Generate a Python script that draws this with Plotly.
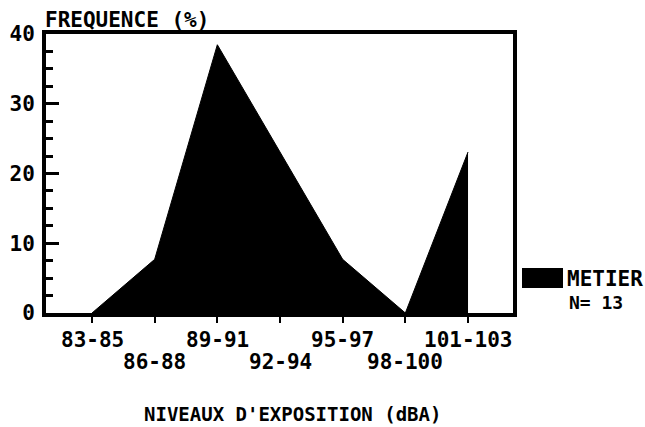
import plotly.graph_objects as go

categories = ["83-85", "86-88", "89-91", "92-94", "95-97", "98-100", "101-103"]
frequence = [0, 7.69, 38.46, 23.08, 7.69, 0, 23.08]
y_ticks = [0, 10, 20, 30, 40]
legend_name = "METIER"
legend_n = "N= 13"

FONT = "DejaVu Sans Mono"
xs = list(range(len(categories)))

fig = go.Figure()
fig.add_trace(go.Scatter(
    x=xs, y=frequence, mode="lines", fill="tozeroy",
    line=dict(color="black", width=1), fillcolor="black",
    showlegend=False, hoverinfo="skip"))

# Plot area in pixels: x 46..513, y 34..313
L, R, T, B = 46, 513, 34, 313
W, H = 645, 427
pw, ph = R - L, B - T

def px_x(p):
    return (p - L) / pw

def px_y(p):
    return (B - p) / ph

fig.update_layout(
    width=W, height=H,
    margin=dict(l=L, r=W - R, t=T, b=H - B, autoexpand=False),
    paper_bgcolor="white", plot_bgcolor="white",
    font=dict(family=FONT, size=21, color="black", weight="bold"),
    showlegend=False,
)
fig.update_xaxes(
    range=[(L - 92) / 62.67, (R - 92) / 62.67],
    tickvals=xs, ticktext=[""] * len(xs), showticklabels=False,
    ticks="outside", ticklen=6, tickwidth=2, tickcolor="black",
    showline=True, linewidth=4, linecolor="black", mirror=True,
    showgrid=False, zeroline=False, fixedrange=True,
)
fig.update_yaxes(
    range=[0, 40], tickvals=y_ticks,
    ticks="inside", ticklen=13, tickwidth=3, tickcolor="black",
    minor=dict(dtick=2.5, ticks="inside", ticklen=7, tickwidth=3, tickcolor="black"),
    showline=True, linewidth=4, linecolor="black", mirror=True,
    showgrid=False, zeroline=False, ticklabelstandoff=3,
    tickfont=dict(family=FONT, size=21, color="black", weight="bold"),
    fixedrange=True,
)

# Two-row category labels
for i, c in enumerate(categories):
    fig.add_annotation(
        x=i, xref="x", y=px_y(340 if i % 2 == 0 else 362), yref="paper",
        text=c, showarrow=False, xanchor="center", yanchor="middle",
        font=dict(family=FONT, size=21, color="black", weight="bold"))

# Axis titles
fig.add_annotation(
    x=px_x(43), y=px_y(20), xref="paper", yref="paper",
    text="FREQUENCE (%)", showarrow=False, xanchor="left", yanchor="middle",
    font=dict(family=FONT, size=21, color="black", weight="bold"))
fig.add_annotation(
    x=px_x(292), y=px_y(414), xref="paper", yref="paper",
    text="NIVEAUX D'EXPOSITION (dBA)", showarrow=False,
    xanchor="center", yanchor="middle",
    font=dict(family=FONT, size=19, color="black", weight="bold"))

# Legend
fig.add_shape(type="rect", xref="paper", yref="paper",
              x0=px_x(522), x1=px_x(563), y0=px_y(288), y1=px_y(268),
              fillcolor="black", line=dict(width=0))
fig.add_annotation(
    x=px_x(565), y=px_y(279), xref="paper", yref="paper",
    text=legend_name, showarrow=False, xanchor="left", yanchor="middle",
    font=dict(family=FONT, size=21, color="black", weight="bold"))
fig.add_annotation(
    x=px_x(567), y=px_y(302), xref="paper", yref="paper",
    text=legend_n, showarrow=False, xanchor="left", yanchor="middle",
    font=dict(family=FONT, size=18, color="black", weight="bold"))

fig.write_html(
    "out.html",
    config={"displayModeBar": False},
    post_script="document.body.style.margin='0';document.body.style.overflow='hidden';",
)
